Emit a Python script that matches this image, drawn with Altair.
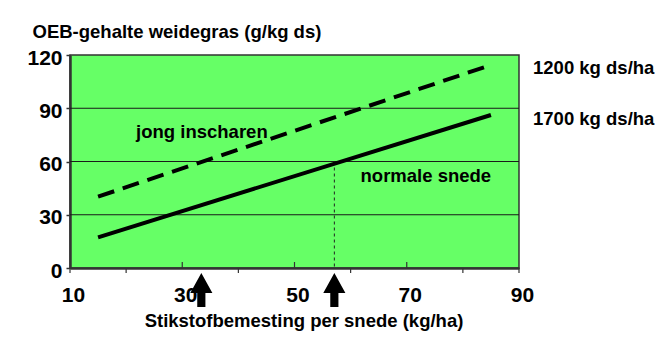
import altair as alt
import pandas as pd

# ---- data ----
x_ends = [15, 85]
normale_snede = [17.3, 86.2]      # solid line (1700 kg ds/ha)
jong_inscharen = [40.2, 114.4]    # dashed line (1200 kg ds/ha)
grid_y = [30, 60, 90]
x_label_values = [10, 30, 50, 70, 90]
y_tick_values = [0, 15, 30, 45, 60, 75, 90, 105, 120]
x_ticks_inward = [30, 50, 70]
x_ticks_outward = [10, 20, 40, 60, 80, 90]
arrow_x = [33.4, 57.1]
ref_x = [57.1]
ref_top = [60]

inside_labels = ["jong inscharen", "normale snede"]
inside_x = [33.5, 73.4]
inside_y = [73.2, 48.6]
side_labels = ["1200 kg ds/ha", "1700 kg ds/ha"]
side_x = [92.5, 92.5]
side_y = [109.3, 80.6]

FONT = "Liberation Sans"
W, H = 449, 213

xs = alt.Scale(domain=[10, 90], nice=False, zero=False)
ys = alt.Scale(domain=[0, 120], nice=False, zero=False)

x_axis = alt.Axis(
    values=x_label_values, ticks=False, tickSize=0, grid=False,
    labelFont=FONT, labelFontSize=21, labelFontWeight="bold", labelColor="black",
    labelBaseline="alphabetic", labelPadding=33.7, labelOffset=3, labelFlush=False,
    labelOverlap=False,
    domainColor="#333333", domainWidth=2.5,
    title="Stikstofbemesting per snede (kg/ha)", titleFont=FONT, titleFontSize=18.5,
    titleFontWeight="bold", titleColor="black", titleX=233.5, titleY=58.7,
    titleAlign="center", titleBaseline="alphabetic", titleAngle=0,
)

y_axis = alt.Axis(
    values=y_tick_values, labelExpr="datum.value % 30 == 0 ? datum.label : ''",
    tickSize=4, tickColor="#333333", tickWidth=1.5, grid=False,
    labelFont=FONT, labelFontSize=21, labelFontWeight="bold", labelColor="black",
    labelPadding=4, labelBaseline="middle", labelFlush=False, labelOverlap=False,
    labelOffset=3,
    domainColor="#333333", domainWidth=2.5,
    title="OEB-gehalte weidegras (g/kg ds)", titleFont=FONT, titleFontSize=18.5,
    titleFontWeight="bold", titleColor="black", titleAngle=0, titleAlign="left",
    titleBaseline="alphabetic", titleX=-38, titleY=-17.7,
)

df_grid = pd.DataFrame({"y": grid_y})
grid = alt.Chart(df_grid).mark_rule(color="#1a1a1a", strokeWidth=1).encode(
    y=alt.Y("y:Q", scale=ys)
)

df_tin = pd.DataFrame({"x": x_ticks_inward})
ticks_in = alt.Chart(df_tin).mark_rule(color="#333333", strokeWidth=1.2).encode(
    x=alt.X("x:Q", scale=xs), y=alt.value(H), y2=alt.value(H - 6)
)
df_tout = pd.DataFrame({"x": x_ticks_outward})
ticks_out = alt.Chart(df_tout).mark_rule(color="#333333", strokeWidth=1.2).encode(
    x=alt.X("x:Q", scale=xs), y=alt.value(H), y2=alt.value(H + 5)
)

df_ref = pd.DataFrame({"x": ref_x, "top": ref_top})
ref = alt.Chart(df_ref).mark_rule(color="#222222", strokeWidth=1, strokeDash=[3, 3]).encode(
    x=alt.X("x:Q", scale=xs),
    y=alt.Y("top:Q", scale=ys), y2=alt.value(H)
)

df_jong = pd.DataFrame({"x": x_ends, "y": jong_inscharen})
dashed = alt.Chart(df_jong).mark_line(color="black", strokeWidth=4, strokeDash=[17, 9]).encode(
    x=alt.X("x:Q", scale=xs), y=alt.Y("y:Q", scale=ys)
)

df_norm = pd.DataFrame({"x": x_ends, "y": normale_snede})
solid = alt.Chart(df_norm).mark_line(color="black", strokeWidth=4).encode(
    x=alt.X("x:Q", scale=xs, axis=x_axis), y=alt.Y("y:Q", scale=ys, axis=y_axis)
)

df_in = pd.DataFrame({"x": inside_x, "y": inside_y, "t": inside_labels})
txt_in = alt.Chart(df_in).mark_text(
    font=FONT, fontSize=18.5, fontWeight="bold", color="black", align="center", baseline="alphabetic"
).encode(x=alt.X("x:Q", scale=xs), y=alt.Y("y:Q", scale=ys), text="t:N")

df_side = pd.DataFrame({"x": side_x, "y": side_y, "t": side_labels})
txt_side = alt.Chart(df_side).mark_text(
    font=FONT, fontSize=18.5, fontWeight="bold", color="black", align="left", baseline="alphabetic"
).encode(x=alt.X("x:Q", scale=xs), y=alt.Y("y:Q", scale=ys), text="t:N")

ARROW = "M0,-1 L0.65,0.18 L0.24,0.18 L0.24,1 L-0.24,1 L-0.24,0.18 L-0.65,0.18 Z"
df_arrow = pd.DataFrame({"x": arrow_x})
arrows = alt.Chart(df_arrow).mark_point(
    shape=ARROW, size=1156, filled=True, color="black", opacity=1, strokeWidth=0
).encode(x=alt.X("x:Q", scale=xs), y=alt.value(H + 22))

chart = alt.layer(
    grid, ticks_in, ticks_out, ref, dashed, solid, txt_in, txt_side, arrows
).properties(
    width=W, height=H,
    autosize=alt.AutoSizeParams(type="none"),
    padding={"left": 70, "top": 55, "right": 145, "bottom": 73},
    background="white",
).configure_view(
    fill="#66FF66", stroke="#333333", strokeWidth=1.5
)

chart.save("out.html", embed_options={"renderer": "svg", "actions": False})
